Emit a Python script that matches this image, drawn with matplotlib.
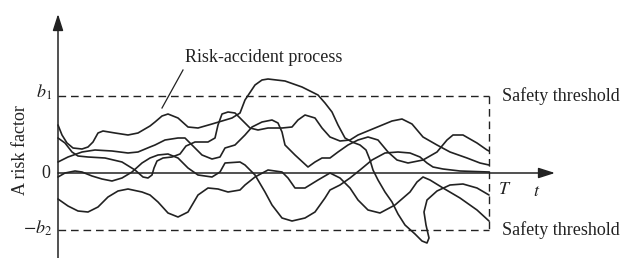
import matplotlib
matplotlib.use("Agg")
import matplotlib.pyplot as plt

plt.rcParams['font.family'] = ['Liberation Serif', 'DejaVu Serif']
plt.rcParams['mathtext.fontset'] = 'stix'

# time axis: 0 .. T, risk axis: 0 at the time axis, b1 above, -b2 below
T = 431
b1 = 77
b2 = 57

# five sample paths of the risk factor (t, value)
path1_t = [0, 4, 9, 15, 24, 30, 35, 40, 45, 57, 70, 80, 92, 97, 104, 110, 120, 130, 140, 154,
           164, 174, 182, 187, 197, 204, 210, 227, 244, 260, 267, 274, 280, 287, 294, 302, 308,
           312, 315, 320, 327, 334, 340, 347, 357, 364, 369, 371, 368, 366, 369, 379, 392, 405,
           419, 431]
path1_v = [48, 38, 30, 25, 24, 26, 31, 40, 42, 40, 38, 40, 47, 51, 57, 59, 55, 46, 45, 49,
           52, 55, 60, 73, 88, 93, 94, 92, 86, 78, 70, 61, 48, 35, 31, 28, 23,
           13, 3, -7, -19, -29, -41, -52, -61, -68, -70, -65, -52, -39, -27, -18, -12, -11,
           -15, -22]

path2_t = [0, 10, 24, 37, 54, 70, 80, 92, 97, 107, 120, 127, 134, 144, 154, 162, 167, 177,
           187, 194, 204, 214, 220, 224, 227, 237, 250, 257, 264, 272, 280, 290, 300, 310, 320,
           330, 339, 350, 365, 379, 389, 395, 405, 419, 429, 431]
path2_v = [11, 16, 21, 23, 22, 20, 21, 26, 28, 33, 35, 35, 28, 18, 14, 16, 25, 28,
           38, 46, 51, 53, 50, 41, 28, 18, 6, 11, 15, 15, 21, 28, 33, 36, 33,
           21, 13, 10, 13, 21, 33, 38, 38, 30, 23, 22]

path3_t = [0, 7, 14, 20, 30, 47, 64, 77, 85, 90, 94, 96, 99, 105, 114, 122, 128, 137, 150,
           157, 160, 164, 170, 177, 184, 192, 200, 210, 224, 234, 240, 247, 257, 264, 272, 282,
           292, 300, 317, 334, 344, 354, 365, 379, 392, 409, 422, 431]
path3_v = [35, 30, 21, 17, 16, 15, 11, 3, -4, -5, -2, 5, 12, 15, 16, 19, 27, 31, 31,
           35, 48, 59, 61, 60, 53, 45, 43, 45, 45, 46, 53, 58, 55, 45, 36, 32,
           33, 38, 45, 52, 54, 49, 36, 28, 21, 15, 10, 8]

path4_t = [0, 7, 17, 24, 34, 44, 54, 64, 74, 84, 92, 100, 110, 120, 130, 140, 154, 162, 167,
           182, 187, 197, 207, 214, 224, 234, 247, 257, 267, 272, 282, 292, 302, 314, 327, 340,
           352, 362, 369, 375, 385, 402, 431]
path4_v = [-4, 0, 2, 1, -3, -6, -8, -5, 1, 10, 15, 18, 19, 15, 5, -2, -4, 1, 10,
           11, 8, -2, -19, -32, -45, -48, -45, -39, -25, -17, -12, -5, 3, 13, 20, 21,
           20, 16, 10, 6, 4, 2, 1]

path5_t = [0, 10, 20, 30, 40, 50, 60, 70, 84, 92, 100, 110, 120, 130, 140, 150, 160, 170,
           182, 187, 197, 210, 224, 230, 237, 247, 260, 272, 282, 292, 300, 310, 322, 337, 352,
           359, 365, 372, 385, 402, 419, 431]
path5_v = [-26, -33, -38, -39, -34, -24, -18, -16, -19, -22, -29, -40, -44, -39, -22, -15, -16, -19,
           -17, -12, -4, 3, 1, -5, -15, -15, -7, 0, -5, -15, -27, -37, -40, -32, -19,
           -9, -4, -7, -15, -25, -37, -48]

paths = [(path1_t, path1_v), (path2_t, path2_v), (path3_t, path3_v),
         (path4_t, path4_v), (path5_t, path5_v)]

ink = '#222222'

fig = plt.figure(figsize=(6.22, 2.58), dpi=100)
ax = fig.add_axes([0, 0, 1, 1])
ax.set_xlim(-58, 564)
ax.set_ylim(-85, 173)
ax.axis('off')

# axes with arrow heads
head = '-|>,head_length=1.0,head_width=0.32'
ax.annotate('', xy=(497, 0), xytext=(0, 0),
            arrowprops=dict(arrowstyle=head, color=ink, lw=1.1, shrinkA=0, shrinkB=0))
ax.annotate('', xy=(0, 159), xytext=(0, -85),
            arrowprops=dict(arrowstyle=head, color=ink, lw=1.1, shrinkA=0, shrinkB=0))

# safety thresholds and the horizon T
dash = dict(color=ink, lw=1.0, ls=(0, (5.5, 3.5)))
ax.plot([0, T], [b1, b1], **dash)
ax.plot([0, T], [-b2, -b2], **dash)
ax.plot([T, T], [b1, -b2], **dash)

for t, v in paths:
    ax.plot(t, v, color=ink, lw=1.2, solid_joinstyle='round', solid_capstyle='round')

fs = 13
ax.text(-6, 81, r'$b_1$', ha='right', va='center', fontsize=fs, color=ink)
ax.text(-8, 0, '0', ha='right', va='center', fontsize=fs, color=ink)
ax.text(-6, -55, r'$-b_2$', ha='right', va='center', fontsize=fs, color=ink)
ax.text(-37, 23, 'A risk factor', rotation=90, ha='center', va='center', fontsize=fs, color=ink)

ax.text(444, b1, 'Safety threshold', ha='left', va='center', fontsize=fs, color=ink)
ax.text(444, -b2, 'Safety threshold', ha='left', va='center', fontsize=fs, color=ink)
ax.text(440, -17, r'$T$', ha='left', va='center', fontsize=fs, color=ink)
ax.text(475, -19, r'$t$', ha='left', va='center', fontsize=fs, color=ink)

ax.text(127, 116, 'Risk-accident process', ha='left', va='center', fontsize=fs, color=ink)
ax.plot([125, 104], [103, 65], color=ink, lw=0.9)

fig.savefig('out.png', dpi=100)
